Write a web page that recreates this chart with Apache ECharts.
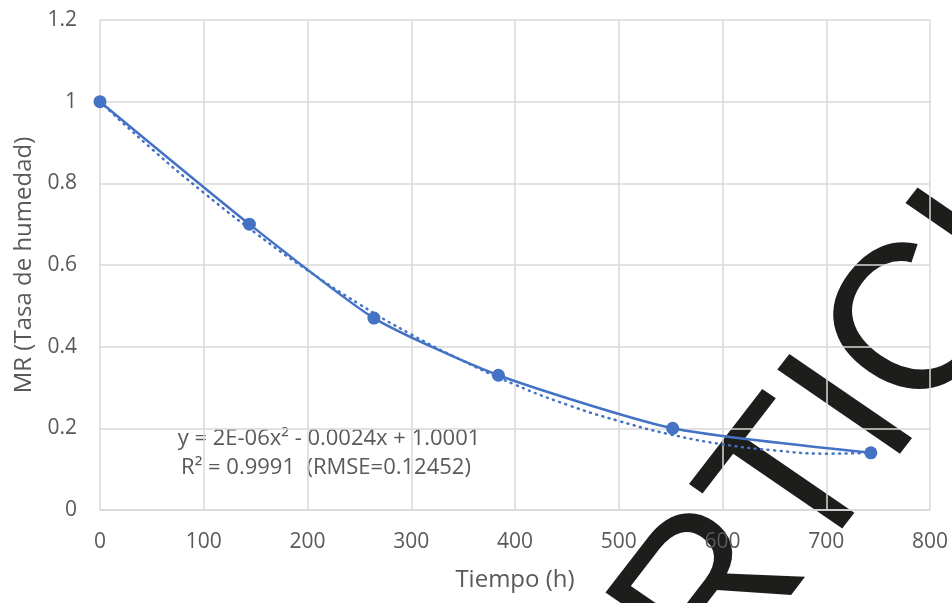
<!DOCTYPE html>
<html>
<head>
<meta charset="utf-8">
<title>MR vs Tiempo</title>
<script src="https://cdn.jsdelivr.net/npm/echarts@6/dist/echarts.min.js"></script>
<style>
  html, body { margin: 0; padding: 0; background: #fff; }
  #chart { width: 952px; height: 603px; }
</style>
</head>
<body>
<div id="chart"></div>
<script>
// measured points
const tiempo = [0, 144, 264, 384, 552, 743]
const mr = [1.0, 0.70, 0.47, 0.33, 0.20, 0.14]

// dotted trend line
const trendX = [0, 50, 100, 150, 200, 250, 300, 350, 400, 450, 500, 550, 600, 650, 700, 743]
const trendY = [1.0, 0.884, 0.777, 0.678, 0.587, 0.504, 0.43, 0.365, 0.307, 0.258, 0.218, 0.185, 0.161, 0.146, 0.138, 0.14]

const eqLines = ['y = 2E-06x² - 0.0024x + 1.0001', 'R² = 0.9991  (RMSE=0.12452)']
const stamp = 'ARTICLE IN PRESS'

const blue = '#4472c4'
const grey = '#595959'
const font = '"Open Sans", "DejaVu Sans", sans-serif'

const chart = echarts.init(document.getElementById('chart'))

const zip = (xs, ys) => xs.map((x, i) => [x, ys[i]])
const ang = 54 * Math.PI / 180

chart.setOption({
  animation: false,
  grid: { left: 100, right: 22, top: 20, bottom: 93 },
  xAxis: {
    type: 'value',
    min: 0,
    max: 800,
    interval: 100,
    name: 'Tiempo (h)',
    nameLocation: 'middle',
    nameGap: 58,
    nameTextStyle: { color: grey, fontSize: 24, fontFamily: font },
    axisLine: { show: true, lineStyle: { color: '#d9d9d9', width: 1.5 } },
    axisTick: { show: false },
    axisLabel: { color: grey, fontSize: 21, fontFamily: font, margin: 22 },
    splitLine: { show: true, lineStyle: { color: '#d9d9d9', width: 1.5 } }
  },
  yAxis: {
    type: 'value',
    min: 0,
    max: 1.2,
    interval: 0.2,
    name: 'MR (Tasa de humedad)',
    nameLocation: 'middle',
    nameGap: 58,
    nameTextStyle: { color: grey, fontSize: 24, fontFamily: font },
    axisLine: { show: false },
    axisTick: { show: false },
    axisLabel: { color: grey, fontSize: 21, fontFamily: font, margin: 23 },
    splitLine: { show: true, lineStyle: { color: '#d9d9d9', width: 1.5 } }
  },
  series: [
    {
      name: 'Tendencia',
      type: 'line',
      data: zip(trendX, trendY),
      showSymbol: false,
      smooth: true,
      lineStyle: { color: blue, width: 2.5, type: [1, 5.5], cap: 'round' },
      z: 2
    },
    {
      name: 'MR',
      type: 'line',
      data: zip(tiempo, mr),
      smooth: 0.2,
      symbol: 'circle',
      symbolSize: 13,
      itemStyle: { color: blue },
      lineStyle: { color: blue, width: 2.5 },
      z: 3
    }
  ],
  graphic: [
    {
      type: 'text',
      x: 329,
      y: 439,
      style: { text: eqLines[0], fill: grey, font: '22px ' + font, textAlign: 'center', textVerticalAlign: 'middle' }
    },
    {
      type: 'text',
      x: 326,
      y: 468,
      style: { text: eqLines[1], fill: grey, font: '22px ' + font, textAlign: 'center', textVerticalAlign: 'middle' }
    },
    {
      // watermark stamp, the scan is stretched sideways a little
      type: 'group',
      x: 0,
      y: 0,
      scaleX: 1.06,
      z: 100,
      children: [
        {
          type: 'text',
          x: 549,
          y: 769,
          rotation: ang,
          style: { text: stamp, fill: '#1d1d1b', font: '208px "Liberation Sans", Arial, sans-serif', textAlign: 'left', textVerticalAlign: 'middle' }
        }
      ]
    }
  ]
})
</script>
</body>
</html>
